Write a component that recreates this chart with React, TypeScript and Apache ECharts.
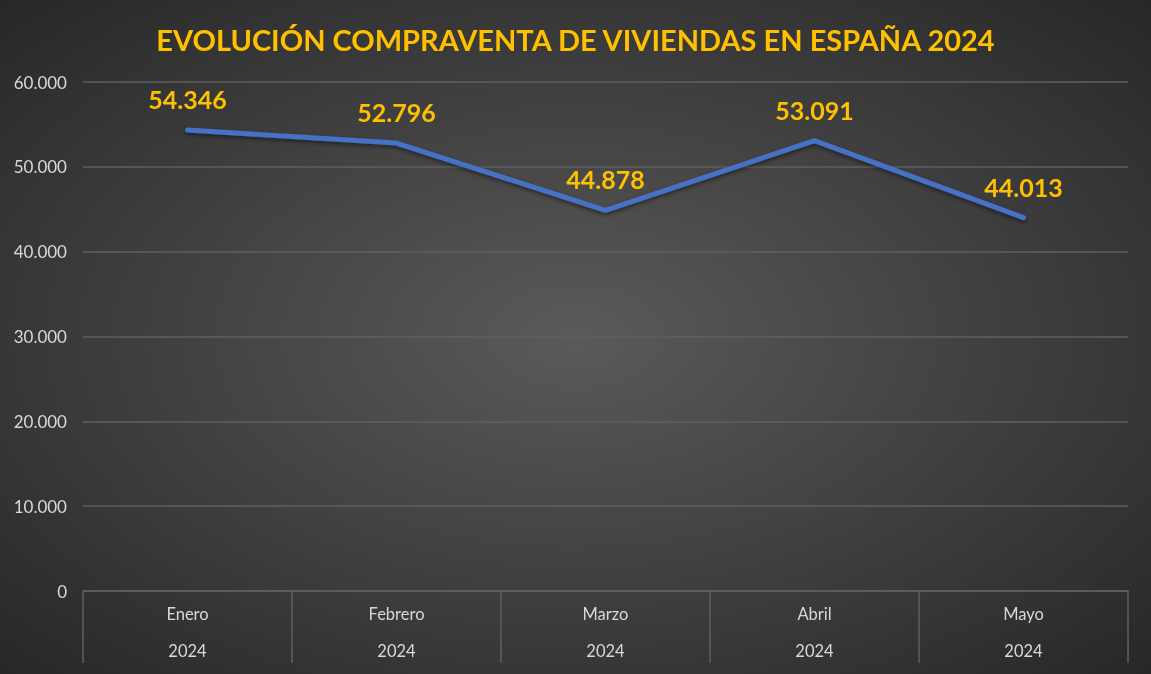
import React, { useEffect, useRef } from "react";
import * as echarts from "echarts";

const months = ["Enero", "Febrero", "Marzo", "Abril", "Mayo"];
const years = ["2024", "2024", "2024", "2024", "2024"];
const sales = [54346, 52796, 44878, 53091, 44013];
const titleText = "EVOLUCIÓN COMPRAVENTA DE VIVIENDAS EN ESPAÑA 2024";

const fmt = (v: number) => {
  if (v === 0) return "0";
  const s = String(Math.round(v));
  return s.replace(/\B(?=(\d{3})+(?!\d))/g, ".");
};

export default function App() {
  const ref = useRef<HTMLDivElement>(null);
  useEffect(() => {
    document.body.style.margin = "0";
    const chart = echarts.init(ref.current!, null, { renderer: "svg" });
    const cats = months.map((m, i) => m + "\n" + years[i]);
    chart.setOption({
      animation: false,
      backgroundColor: {
        type: "radial",
        x: 0.5,
        y: 0.5,
        r: 0.75,
        colorStops: [
          { offset: 0, color: "#5a5a5a" },
          { offset: 1, color: "#242424" },
        ],
      },
      title: {
        text: titleText,
        left: "center",
        top: 20,
        textStyle: {
          color: "#FFC000",
          fontFamily: "Lato",
          fontWeight: "bold",
          fontSize: 29,
        },
      },
      grid: { left: 83, right: 23, top: 82, bottom: 83, containLabel: false },
      xAxis: {
        type: "category",
        data: cats,
        boundaryGap: true,
        axisLine: { show: true, lineStyle: { color: "#5f5f5f", width: 1.5 } },
        axisTick: {
          show: true,
          interval: 0,
          length: 72,
          lineStyle: { color: "#5f5f5f", width: 1.5 },
        },
        axisLabel: {
          interval: 0,
          margin: 4,
          color: "#d9d9d9",
          fontFamily: "Lato",
          fontSize: 16.5,
          lineHeight: 37,
        },
      },
      yAxis: {
        type: "value",
        min: 0,
        max: 60000,
        interval: 10000,
        axisLine: { show: false },
        axisTick: { show: false },
        splitLine: { lineStyle: { color: "#5f5f5f", width: 1.5 } },
        axisLabel: {
          color: "#d9d9d9",
          fontFamily: "Lato",
          fontSize: 17,
          margin: 16,
          formatter: (v: number) => fmt(v),
        },
      },
      series: [
        {
          type: "line",
          data: sales,
          symbol: "circle",
          showSymbol: true,
          symbolSize: 1,
          itemStyle: { color: "rgba(0,0,0,0)" },
          lineStyle: {
            color: "#4472C4",
            width: 5,
            cap: "round",
            join: "round",
            shadowColor: "rgba(0,0,0,0.5)",
            shadowBlur: 4,
            shadowOffsetY: 2,
          },
          label: {
            show: true,
            position: "top",
            distance: 18,
            color: "#FFC000",
            fontFamily: "Lato",
            fontWeight: "bold",
            fontSize: 25,
            formatter: (p: any) => fmt(p.value),
          },
        },
      ],
    });
    return () => chart.dispose();
  }, []);
  return (
    <div
      ref={ref}
      style={{ position: "fixed", left: 0, top: 0, width: 1151, height: 674 }}
    />
  );
}
